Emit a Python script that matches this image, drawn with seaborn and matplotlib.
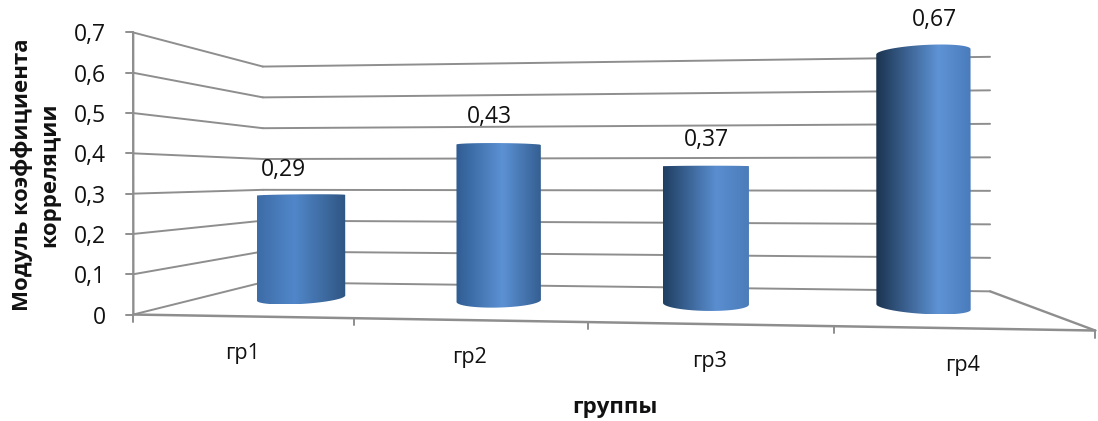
"""Excel style 3D cylinder chart redrawn with seaborn bars and a projective transform."""

import matplotlib
matplotlib.use("Agg")
import matplotlib.pyplot as plt
from matplotlib.colors import LinearSegmentedColormap
from matplotlib.patches import PathPatch
from matplotlib.path import Path
from matplotlib.transforms import Transform
import numpy as np
import pandas as pd
import seaborn as sns

# data
groups = ["гр1", "гр2", "гр3", "гр4"]
values = [0.29, 0.43, 0.37, 0.67]
value_labels = ["0,29", "0,43", "0,37", "0,67"]
y_ticks = [0, 0.1, 0.2, 0.3, 0.4, 0.5, 0.6, 0.7]
y_tick_labels = ["0", "0,1", "0,2", "0,3", "0,4", "0,5", "0,6", "0,7"]
y_title = "Модуль коэффициента\nкорреляции"
x_title = "группы"

# (left, peak, right colour, peak position) of the shading of each cylinder
shades = [
    ("#3d6ca6", "#5187ca", "#2f5683", 0.42),
    ("#2f5c92", "#5c91d4", "#345f92", 0.55),
    ("#1f3e62", "#5a8ed0", "#4c7cba", 0.62),
    ("#1b3350", "#5e93d5", "#4a7cbc", 0.66),
]

W, H = 1098, 421
GRID = "#8e8e8e"
BAR_DEPTH = 0.5
LABEL_DEPTH = 0.33

# box corners and front ticks as (position, depth, value) -> pixel, used to fit the camera
box_points = [
    (0, 0, 0.0, 133, 314), (0, 0, 0.7, 133, 33),
    (1, 0, 0.0, 355, 318), (2, 0, 0.0, 588, 322),
    (3, 0, 0.0, 833, 326), (4, 0, 0.0, 1096, 331),
    (0, 1, 0.0, 263, 283), (0, 1, 0.7, 263, 66),
    (4, 1, 0.0, 990, 291), (4, 1, 0.7, 990, 57),
]


def fit_camera(points):
    rows, rhs = [], []
    for u, d, v, px, py in points:
        rows.append([u, d, v, 1, 0, 0, 0, 0, -px * u, -px * d, -px * v])
        rows.append([0, 0, 0, 0, u, d, v, 1, -py * u, -py * d, -py * v])
        rhs += [px, py]
    sol = np.linalg.lstsq(np.array(rows, float), np.array(rhs, float), rcond=None)[0]
    return np.append(sol, 1.0).reshape(3, 4)


CAMERA = fit_camera(box_points)


def project(u, d, v):
    pts = np.column_stack([u, d, v, np.ones_like(u)])
    out = pts @ CAMERA.T
    return out[:, :2] / out[:, 2:]


class BoxPlane(Transform):
    """Maps (bar position, value) at a fixed depth of the box to picture pixels."""
    input_dims = 2
    output_dims = 2
    is_affine = False

    def __init__(self, box_depth):
        super().__init__()
        self.box_depth = box_depth

    def transform_non_affine(self, xy):
        xy = np.asarray(xy, float)
        return project(xy[:, 0] + 0.5, np.full(len(xy), self.box_depth), xy[:, 1])


def pt(u, d, v):
    return project(np.array([u], float), np.array([d], float), np.array([v], float))[0]


def box_line(ax, a, b, lw=1.4, color=GRID):
    p, q = pt(*a), pt(*b)
    ax.plot([p[0], q[0]], [p[1], q[1]], color=color, lw=lw, zorder=1, solid_capstyle="round")


def cylinder_path(u0, r_u, height):
    t = np.linspace(0, 2 * np.pi, 181)[:-1]
    us = u0 + r_u * np.cos(t)
    ds = BAR_DEPTH + 0.2 * np.sin(t)

    def arc(value, upper):
        ring = project(us, ds, np.full_like(us, value))
        left, right = ring[:, 0].argmin(), ring[:, 0].argmax()
        ring = np.roll(ring, -left, axis=0)
        split = (right - left) % len(ring)
        a, b = ring[:split + 1], np.vstack([ring[split:], ring[:1]])[::-1]
        pick_a = a[:, 1].mean() < b[:, 1].mean()
        return a if pick_a == upper else b

    verts = np.vstack([arc(height, True), arc(0.0, False)[::-1]])
    return Path(np.vstack([verts, verts[:1]]), closed=True)


sns.set_theme(style="white")
plt.rcParams["font.family"] = ["Open Sans", "DejaVu Sans"]

df = pd.DataFrame({"group": groups, "value": values})

fig = plt.figure(figsize=(W / 100, H / 100), dpi=100)
ax = fig.add_axes([0, 0, 1, 1])
sns.barplot(data=df, x="group", y="value", width=0.405, color="#4f81bd", ax=ax, zorder=2)

# walls and floor
for v in y_ticks:
    box_line(ax, (0, 0, v), (0, 1, v))
    box_line(ax, (0, 1, v), (4, 1, v))
box_line(ax, (0, 0, 0), (0, 0, 0.7), lw=1.7)
box_line(ax, (0, 0, 0), (4, 0, 0), lw=1.8)
box_line(ax, (4, 1, 0), (4, 0, 0), lw=1.7)

# axis ticks and labels
for v, label in zip(y_ticks, y_tick_labels):
    p = pt(0, 0, v)
    ax.plot([p[0] - 7, p[0]], [p[1], p[1]], color=GRID, lw=1.4, zorder=1)
    ax.text(p[0] - 27, p[1] + 3, label, ha="right", va="center", fontsize=16.5, color="#111111", zorder=5)
for u in range(5):
    p = pt(u, 0, 0)
    ax.plot([p[0], p[0]], [p[1], p[1] + 7], color=GRID, lw=1.4, zorder=1)
for i, label in enumerate(groups):
    p = pt(i + 0.5, 0, 0)
    ax.text(p[0], p[1] + 37, label, ha="center", va="center", fontsize=15.5, color="#111111", zorder=5)

# turn the seaborn bars into shaded cylinders
for i, bar in enumerate(ax.containers[0]):
    bar.set_transform(BoxPlane(BAR_DEPTH) + ax.transData)
    bar.set_edgecolor("none")
    u0 = bar.get_x() + bar.get_width() / 2 + 0.5
    outline = cylinder_path(u0, bar.get_width() / 2, bar.get_height())
    left, peak, right, where = shades[i]
    cmap = LinearSegmentedColormap.from_list("cyl", [(0, left), (where, peak), (1, right)])
    box = outline.get_extents()
    im = ax.imshow(np.linspace(0, 1, 256)[None, :], cmap=cmap, aspect="auto", zorder=3,
                   extent=(box.x0, box.x1, box.y1, box.y0))
    im.set_clip_path(PathPatch(outline, transform=ax.transData))

    p = pt(u0, LABEL_DEPTH, bar.get_height())
    ax.text(p[0], p[1] - 26, value_labels[i], ha="center", va="center", fontsize=16.5, color="#111111", zorder=5)

ax.text(36, 175, y_title, rotation=90, ha="center", va="center", fontsize=16,
        fontweight="bold", linespacing=1.4, color="#111111")
ax.text(615, 407, x_title, ha="center", va="center", fontsize=16, fontweight="bold", color="#111111")

ax.set_xlim(0, W)
ax.set_ylim(H, 0)
ax.axis("off")

plt.savefig("out.png", dpi=100)
